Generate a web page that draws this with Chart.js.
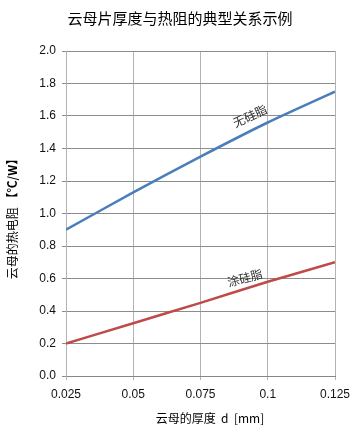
<!DOCTYPE html>
<html>
<head>
<meta charset="utf-8">
<script src="https://cdn.jsdelivr.net/npm/chart.js@4.4.1/dist/chart.umd.min.js"></script>
<style>
  html, body { margin: 0; padding: 0; background: #fff; }
  #wrap { width: 361px; height: 433px; }
</style>
</head>
<body>
<div id="wrap"><canvas id="micaChart" width="361" height="433"></canvas></div>
<script>
// thickness d [mm]
const thickness = [0.025, 0.05, 0.075, 0.1, 0.125];
// thermal resistance [°C/W]
const noGrease = [0.9, 1.13, 1.35, 1.56, 1.75];
const withGrease = [0.2, 0.325, 0.45, 0.58, 0.7];
const xTickLabels = ['0.025', '0.05', '0.075', '0.1', '0.125'];

const CJK = '"Noto Sans CJK SC", "Noto Sans", sans-serif';

// title, axis titles and the in-plot line labels
const textPlugin = {
    id: 'texts',
    afterDraw(chart) {
        const ctx = chart.ctx;
        const x = chart.scales.x, y = chart.scales.y;
        ctx.save();
        ctx.fillStyle = '#000';
        ctx.textAlign = 'center';
        ctx.textBaseline = 'middle';

        ctx.font = '15px ' + CJK;
        ctx.fillText('云母片厚度与热阻的典型关系示例', 180, 18);

        ctx.font = '12px ' + CJK;
        ctx.fillText('云母的厚度  d  [mm]', 210, 418);

        // y title, rotated
        ctx.save();
        ctx.translate(12, 216);
        ctx.rotate(-Math.PI / 2);
        ctx.textAlign = 'left';
        const a = '云母的热电阻 ';
        ctx.font = '12px ' + CJK;
        const wa = ctx.measureText(a).width;
        ctx.font = 'bold 12px ' + CJK;
        const b = '【℃/W】';
        const wb = ctx.measureText(b).width;
        const start = -(wa + wb) / 2;
        ctx.font = '12px ' + CJK;
        ctx.fillText(a, start, 0);
        ctx.font = 'bold 12px ' + CJK;
        ctx.fillText(b, start + wa, 0);
        ctx.restore();

        // line labels
        ctx.fillStyle = '#333';
        ctx.font = '12px ' + CJK;
        const labels = [
            { text: '无硅脂', x: 0.0934, y: 1.6, angle: -25 },
            { text: '涂硅脂', x: 0.0915, y: 0.603, angle: -15 }
        ];
        labels.forEach(l => {
            ctx.save();
            ctx.translate(x.getPixelForValue(l.x), y.getPixelForValue(l.y));
            ctx.rotate(l.angle * Math.PI / 180);
            ctx.fillText(l.text, 0, 0);
            ctx.restore();
        });
        ctx.restore();
    }
};

const ctx = document.getElementById('micaChart').getContext('2d');
new Chart(ctx, {
    type: 'line',
    data: {
        labels: thickness,
        datasets: [
            {
                label: '无硅脂',
                data: thickness.map((t, i) => ({ x: t, y: noGrease[i] })),
                borderColor: '#4a7ebb',
                borderWidth: 2.5,
                pointRadius: 0,
                tension: 0.2,
                fill: false
            },
            {
                label: '涂硅脂',
                data: thickness.map((t, i) => ({ x: t, y: withGrease[i] })),
                borderColor: '#be4b48',
                borderWidth: 2.5,
                pointRadius: 0,
                tension: 0.2,
                fill: false
            }
        ]
    },
    options: {
        responsive: false,
        animation: false,
        layout: {
            padding: { top: 51, left: 0, right: 26, bottom: 0 }
        },
        plugins: {
            legend: { display: false },
            title: { display: false },
            tooltip: { enabled: false }
        },
        scales: {
            x: {
                type: 'linear',
                min: 0.025,
                max: 0.125,
                afterFit: s => { s.height = 57; },
                afterBuildTicks: s => {
                    s.ticks = thickness.map(v => ({ value: v }));
                },
                grid: {
                    color: '#b4b4b4',
                    lineWidth: 1,
                    tickLength: 4
                },
                border: { color: '#868686' },
                ticks: {
                    color: '#111',
                    padding: 7,
                    maxRotation: 0,
                    font: { family: '"Liberation Sans", Arial, sans-serif', size: 12 },
                    callback: (v, i) => xTickLabels[i]
                }
            },
            y: {
                min: 0,
                max: 2.0,
                afterFit: s => { s.width = 66; },
                grid: {
                    color: '#8c8c8c',
                    lineWidth: 1,
                    tickLength: 4
                },
                border: { color: '#b4b4b4' },
                ticks: {
                    stepSize: 0.2,
                    color: '#111',
                    padding: 6,
                    font: { family: '"Liberation Sans", Arial, sans-serif', size: 12 },
                    callback: v => v.toFixed(1)
                }
            }
        }
    },
    plugins: [textPlugin]
});
</script>
</body>
</html>
